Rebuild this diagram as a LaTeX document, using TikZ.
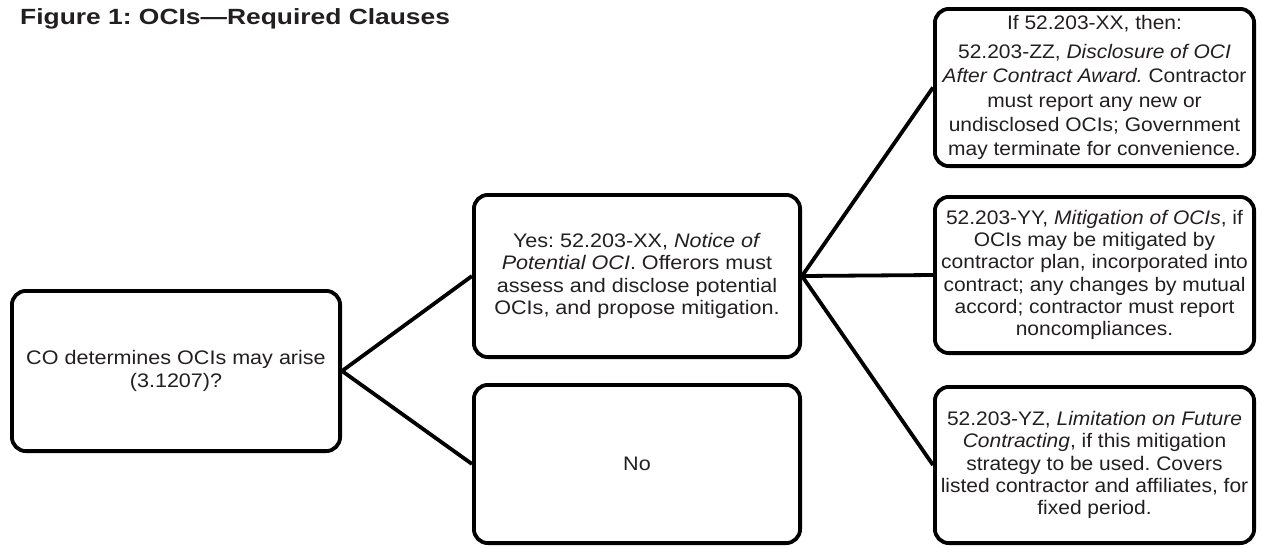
\documentclass[tikz,border=0pt]{standalone}
\usepackage{fontspec}
\setmainfont{Liberation Sans}
\newfontfamily\boxfont[FakeStretch=1.1,Ligatures=TeX]{Liberation Sans}
\newfontfamily\narrowfont[FakeStretch=1.07,Ligatures=TeX]{Liberation Sans}
\newfontfamily\titlefont[FakeStretch=1.2,Ligatures=TeX]{Liberation Sans}
\definecolor{ink}{RGB}{35,31,32}
\frenchspacing
\begin{document}
\begin{tikzpicture}[x=1pt,y=-1pt,
  box/.style={draw=black, line width=3.8pt, rounded corners=14pt, rectangle,
    align=center, text=ink, inner sep=0pt,
    font=\boxfont\frenchspacing\fontsize{19.6}{22.3}\selectfont},
  rbox/.style={box, minimum width=319.2pt,
    font=\narrowfont\frenchspacing\fontsize{19.6}{22.3}\selectfont},
  link/.style={draw=black, line width=3.8pt}]
\useasboundingbox (0,0) rectangle (1262,547);
\node[anchor=base west, text=ink, inner sep=0pt, font=\titlefont\bfseries\fontsize{22}{26}\selectfont]
  (title) at (20,24) {Figure 1: OCIs—Required Clauses};
\node[box, minimum width=328.2pt, minimum height=160.2pt] (A) at (176,371)
  {CO determines OCIs may arise\\(3.1207)?};
\node[box, minimum width=326.2pt, minimum height=162.2pt] (B) at (637,276)
  {Yes: 52.203-XX, \textit{Notice of}\\\textit{Potential OCI}. Offerors must\\assess and disclose potential\\OCIs, and propose mitigation.};
\node[box, minimum width=326.2pt, minimum height=158.2pt] (C) at (637,464)
  {No};
\node[rbox, minimum height=157.2pt,
  font=\narrowfont\frenchspacing\fontsize{19.6}{24.3}\selectfont] (D) at (1094.5,87.5)
  {If 52.203-XX, then:\\[5pt]52.203-ZZ, \textit{Disclosure of OCI}\\\textit{After Contract Award.} Contractor\\must report any new or\\undisclosed OCIs; Government\\may terminate for convenience.};
\node[rbox, minimum height=156.2pt] (E) at (1094.5,275)
  {52.203-YY, \textit{Mitigation of OCIs}, if\\OCIs may be mitigated by\\contractor plan, incorporated into\\contract; any changes by mutual\\accord; contractor must report\\noncompliances.};
\node[rbox, minimum height=156.2pt] (F) at (1094.5,465)
  {52.203-YZ, \textit{Limitation on Future}\\\textit{Contracting}, if this mitigation\\strategy to be used. Covers\\listed contractor and affiliates, for\\fixed period.};
\draw[link] (A.east) -- (B.west);
\draw[link] (A.east) -- (C.west);
\draw[link] (B.east) -- (D.west);
\draw[link] (B.east) -- (E.west);
\draw[link] (B.east) -- (F.west);
\end{tikzpicture}
\end{document}
